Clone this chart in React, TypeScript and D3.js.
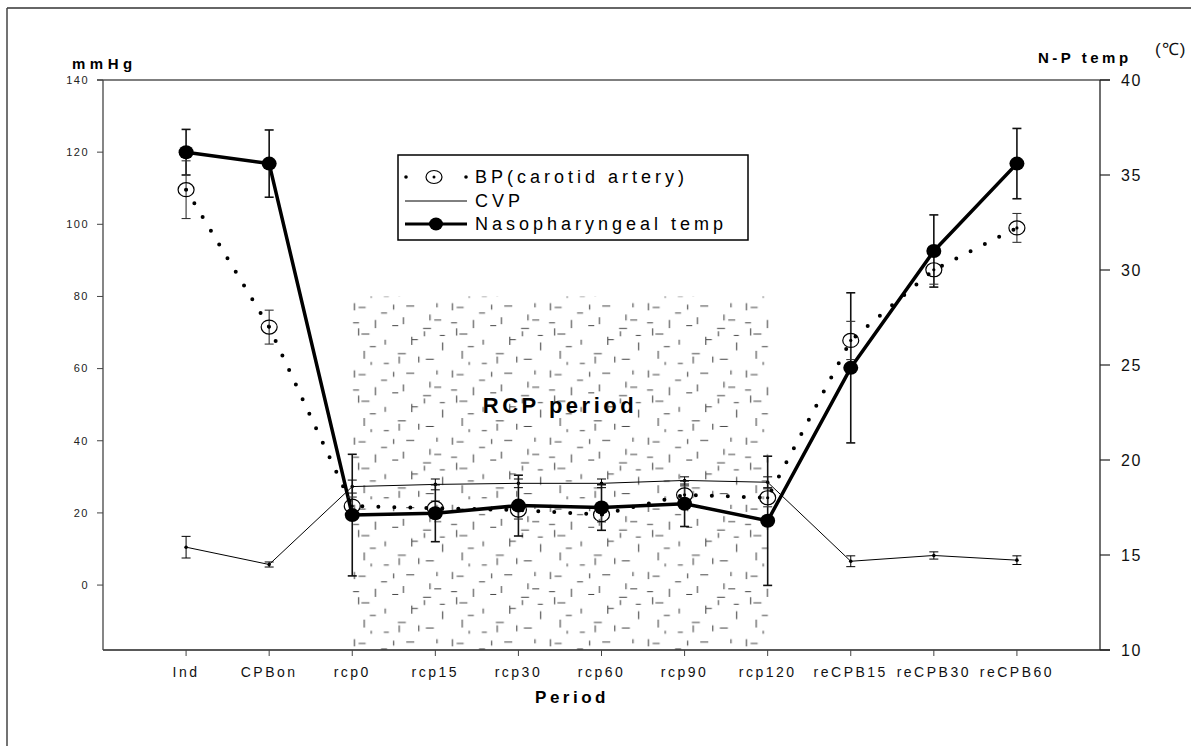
import React from "react";
import * as d3 from "d3";

// Sampling periods along the x axis
const periods = [
  "Ind", "CPBon", "rcp0", "rcp15", "rcp30", "rcp60",
  "rcp90", "rcp120", "reCPB15", "reCPB30", "reCPB60",
];

// Blood pressure (carotid artery), mmHg
const bpMean = [109.6, 71.5, 21.9, 21.3, 20.8, 19.5, 25.0, 24.2, 67.8, 87.4, 99.0];
const bpSd = [8.0, 4.7, 2.5, 2.0, 2.5, 2.0, 2.5, 2.5, 5.3, 4.0, 4.0];

// Central venous pressure, mmHg
const cvpMean = [10.5, 5.7, 27.3, 27.9, 28.2, 28.2, 29.0, 28.5, 6.6, 8.2, 6.9];
const cvpSd = [3.0, 0.7, 1.8, 1.5, 1.2, 1.2, 1.0, 1.5, 1.5, 1.0, 1.2];

// Nasopharyngeal temperature, deg C (right axis)
const tempMean = [36.2, 35.6, 17.1, 17.2, 17.6, 17.5, 17.7, 16.8, 24.85, 31.0, 35.6];
const tempSd = [1.2, 1.77, 3.2, 1.5, 1.6, 1.2, 1.2, 3.4, 3.95, 1.9, 1.85];

const leftTicks = [0, 20, 40, 60, 80, 100, 120, 140];
const rightTicks = [10, 15, 20, 25, 30, 35, 40];

// RCP period shading spans these periods, from this pressure level down
const rcpSpan = ["rcp0", "rcp120"];
const rcpTop = 80;

// Short strokes that make up the stippled tile of the RCP band
const tileV = [
  [3, 2, 9], [18, 14, 22], [31, 3, 8], [44, 26, 34], [57, 10, 16], [66, 30, 38],
  [10, 36, 44], [25, 28, 33], [49, 40, 46], [38, 12, 19], [62, 2, 6], [15, 44, 47],
  [35, 40, 47], [53, 22, 27], [6, 20, 27],
];
const tileH = [
  [6, 13, 5], [22, 28, 9], [40, 48, 4], [52, 60, 20], [8, 16, 24], [30, 36, 18],
  [60, 67, 14], [14, 20, 33], [34, 42, 38], [54, 62, 42], [2, 8, 16], [44, 50, 28],
  [24, 29, 45], [64, 69, 25],
];
const tileSpread = 1.4;

const FONT = "'Liberation Sans', Arial, Helvetica, sans-serif";

export default function App() {
  const W = 1191;
  const H = 746;
  const left = 103;
  const right = 1100;
  const top = 80;
  const bottom = 650;

  const x = d3.scalePoint<string>().domain(periods).range([left, right]).padding(1);
  const yL = d3.scaleLinear().domain([-18, 140]).range([bottom, top]);
  const yR = d3.scaleLinear().domain([10, 40]).range([bottom, top]);

  const lineL = d3
    .line<number>()
    .x((_, i) => x(periods[i]) as number)
    .y((d) => yL(d));
  const lineR = d3
    .line<number>()
    .x((_, i) => x(periods[i]) as number)
    .y((d) => yR(d));

  const bandX0 = (x(rcpSpan[0]) as number) - 2;
  const bandX1 = (x(rcpSpan[1]) as number) + 2;
  const bandY0 = yL(rcpTop);

  const cap = 4.5;
  const errBar = (
    key: string,
    cx: number,
    y1: number,
    y2: number,
    sw: number,
    color: string
  ) => (
    <g key={key} stroke={color} strokeWidth={sw} fill="none">
      <line x1={cx} x2={cx} y1={y1} y2={y2} />
      <line x1={cx - cap} x2={cx + cap} y1={y1} y2={y1} />
      <line x1={cx - cap} x2={cx + cap} y1={y2} y2={y2} />
    </g>
  );

  const s = tileSpread;

  return (
    <div style={{ position: "absolute", left: 0, top: 0 }}>
      <svg width={W} height={H} style={{ display: "block", background: "#fff" }}>
        <defs>
          <pattern
            id="rcpTile"
            width={70 * s}
            height={48 * s}
            patternUnits="userSpaceOnUse"
            x={bandX0}
            y={bandY0 + 4}
          >
            {tileV.map((v, i) => (
              <line
                key={"v" + i}
                x1={v[0] * s}
                x2={v[0] * s}
                y1={v[1] * s}
                y2={v[1] * s + (v[2] - v[1])}
                stroke="#333"
                strokeWidth={1}
              />
            ))}
            {tileH.map((h, i) => (
              <line
                key={"h" + i}
                x1={h[0] * s}
                x2={h[0] * s + (h[1] - h[0])}
                y1={h[2] * s}
                y2={h[2] * s}
                stroke="#444"
                strokeWidth={1}
              />
            ))}
          </pattern>
        </defs>

        {/* figure frame */}
        <line x1={7} x2={W} y1={8} y2={8} stroke="#333" strokeWidth={1.5} />
        <line x1={7} x2={7} y1={8} y2={H} stroke="#444" strokeWidth={1.5} />

        {/* RCP period band */}
        <rect x={bandX0} y={bandY0} width={bandX1 - bandX0} height={bottom - bandY0} fill="url(#rcpTile)" />
        <text
          x={(bandX0 + bandX1) / 2}
          y={405}
          textAnchor="middle"
          dominantBaseline="central"
          fontFamily={FONT}
          fontWeight="bold"
          fontSize={22}
          letterSpacing={3.5}
          fill="#000"
        >
          RCP period
        </text>

        {/* plot frame and axes */}
        <line x1={left - 6} x2={right + 10} y1={top} y2={top} stroke="#555" strokeWidth={1.3} />
        <line x1={left} x2={right + 10} y1={bottom} y2={bottom} stroke="#222" strokeWidth={1.3} />
        <line x1={left} x2={left} y1={top} y2={bottom} stroke="#444" strokeWidth={1.3} />
        <line x1={right} x2={right} y1={top} y2={bottom} stroke="#222" strokeWidth={1.3} />

        {leftTicks.map((t) => (
          <g key={"lt" + t}>
            <line x1={left - 6} x2={left} y1={yL(t)} y2={yL(t)} stroke="#444" strokeWidth={1} />
            <text
              x={89}
              y={yL(t)}
              dy="0.35em"
              textAnchor="end"
              fontFamily={FONT}
              fontSize={11}
              letterSpacing={1.5}
              fill="#222"
            >
              {t}
            </text>
          </g>
        ))}

        {rightTicks.map((t) => (
          <g key={"rt" + t}>
            <line x1={right} x2={right + 10} y1={yR(t)} y2={yR(t)} stroke="#222" strokeWidth={1.2} />
            <text
              x={1121}
              y={yR(t)}
              dy="0.35em"
              fontFamily={FONT}
              fontSize={16}
              letterSpacing={1.5}
              fill="#111"
            >
              {t}
            </text>
          </g>
        ))}

        {periods.map((p) => (
          <g key={"xt" + p}>
            <line x1={x(p)} x2={x(p)} y1={bottom} y2={bottom + 6} stroke="#444" strokeWidth={1} />
            <text
              x={x(p)}
              y={677}
              textAnchor="middle"
              fontFamily={FONT}
              fontSize={14}
              letterSpacing={2.5}
              fill="#111"
            >
              {p}
            </text>
          </g>
        ))}

        {/* axis titles */}
        <text x={72} y={69} fontFamily={FONT} fontWeight="bold" fontSize={15} letterSpacing={4.5} fill="#000">
          mmHg
        </text>
        <text x={1038} y={63} fontFamily={FONT} fontWeight="bold" fontSize={15} letterSpacing={3.5} fill="#000">
          N-P temp
        </text>
        <text x={1155} y={55} fontFamily={FONT} fontSize={17} letterSpacing={1} fill="#111">
          (℃)
        </text>
        <text
          x={572}
          y={703}
          textAnchor="middle"
          fontFamily={FONT}
          fontWeight="bold"
          fontSize={17}
          letterSpacing={3.5}
          fill="#000"
        >
          Period
        </text>

        {/* CVP */}
        <path d={lineL(cvpMean) || ""} fill="none" stroke="#000" strokeWidth={1} />
        {cvpMean.map((v, i) =>
          errBar("ce" + i, x(periods[i]) as number, yL(v + cvpSd[i]), yL(v - cvpSd[i]), 1, "#000")
        )}
        {cvpMean.map((v, i) => (
          <circle key={"cd" + i} cx={x(periods[i])} cy={yL(v)} r={1.8} fill="#000" />
        ))}

        {/* BP dotted line */}
        <path
          d={lineL(bpMean) || ""}
          fill="none"
          stroke="#000"
          strokeWidth={4}
          strokeLinecap="round"
          strokeDasharray="0 16"
        />

        {/* temperature */}
        <path d={lineR(tempMean) || ""} fill="none" stroke="#000" strokeWidth={3.5} strokeLinejoin="round" />
        {tempMean.map((v, i) =>
          errBar("te" + i, x(periods[i]) as number, yR(v + tempSd[i]), yR(v - tempSd[i]), 1.6, "#111")
        )}

        {bpMean.map((v, i) =>
          errBar("be" + i, x(periods[i]) as number, yL(v + bpSd[i]), yL(v - bpSd[i]), 1.1, "#333")
        )}
        {bpMean.map((v, i) => (
          <g key={"bm" + i}>
            <ellipse cx={x(periods[i])} cy={yL(v)} rx={8} ry={7} fill="none" stroke="#000" strokeWidth={1.2} />
            <circle cx={x(periods[i])} cy={yL(v)} r={1.6} fill="#000" />
          </g>
        ))}
        {tempMean.map((v, i) => (
          <ellipse key={"tm" + i} cx={x(periods[i])} cy={yR(v)} rx={7.5} ry={7} fill="#000" />
        ))}

        {/* legend */}
        <rect x={398} y={155} width={350} height={85} fill="#fff" stroke="#000" strokeWidth={1.5} />
        <g>
          <circle cx={406} cy={177} r={1.8} fill="#000" />
          <ellipse cx={434} cy={177} rx={8} ry={6.5} fill="none" stroke="#000" strokeWidth={1.2} />
          <circle cx={434} cy={177} r={1.5} fill="#000" />
          <circle cx={466} cy={177} r={1.8} fill="#000" />
          <line x1={405} x2={467} y1={201} y2={201} stroke="#000" strokeWidth={1} />
          <line x1={405} x2={467} y1={224} y2={224} stroke="#000" strokeWidth={3.2} />
          <ellipse cx={436} cy={224} rx={7} ry={6.5} fill="#000" />
        </g>
        {["BP(carotid artery)", "CVP", "Nasopharyngeal temp"].map((label, i) => (
          <text
            key={label}
            x={475}
            y={177 + i * 23.5}
            dy="0.36em"
            fontFamily={FONT}
            fontSize={18}
            letterSpacing={4}
            fill="#000"
          >
            {label}
          </text>
        ))}
      </svg>
    </div>
  );
}
